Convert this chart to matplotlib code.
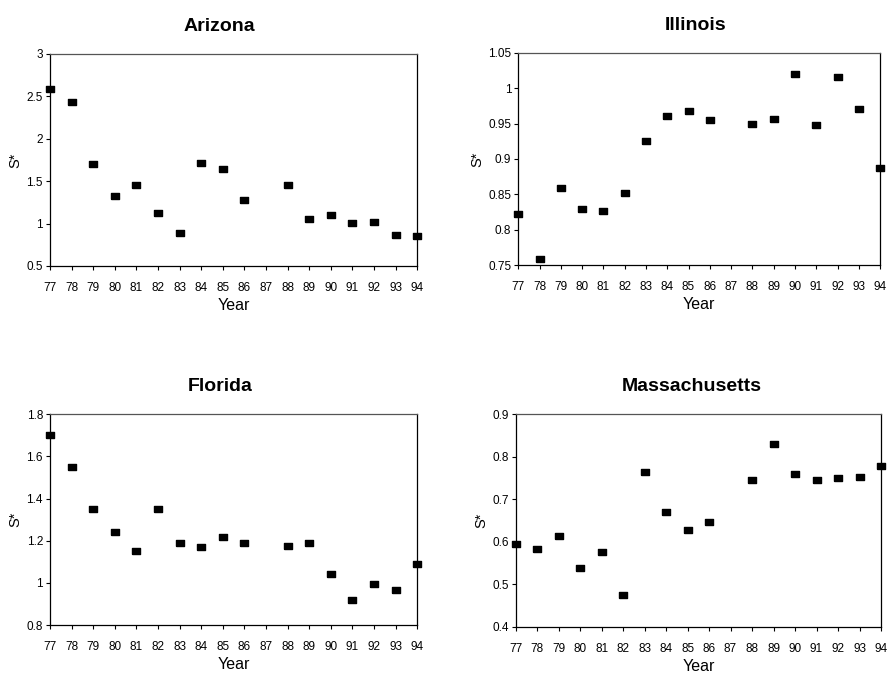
import matplotlib
matplotlib.use("Agg")
import matplotlib.pyplot as plt
import numpy as np

plt.rcParams['font.family'] = ['Liberation Sans', 'DejaVu Sans']

years = list(range(77, 95))
year_labels = [str(y) for y in years]

# None = no observation
arizona = [2.59, 2.43, 1.70, 1.33, 1.46, 1.12, 0.885, 1.71, 1.64, 1.28, None,
           1.45, 1.05, 1.10, 1.01, 1.02, 0.86, 0.85]
illinois = [0.822, 0.759, 0.859, 0.830, 0.826, 0.852, 0.926, 0.960, 0.967, 0.955, None,
            0.949, 0.957, 1.020, 0.948, 1.016, 0.971, 0.887]
florida = [1.70, 1.55, 1.35, 1.24, 1.15, 1.35, 1.19, 1.17, 1.22, 1.19, None,
           1.175, 1.19, 1.04, 0.92, 0.993, 0.966, 1.09]
massachusetts = [0.594, 0.584, 0.613, 0.538, 0.577, 0.475, 0.764, 0.670, 0.627, 0.647, None,
                 0.746, 0.830, 0.760, 0.746, 0.751, 0.752, 0.778]

az_ticks = [0.5, 1, 1.5, 2, 2.5, 3]
az_labels = ["0.5", "1", "1.5", "2", "2.5", "3"]
il_ticks = [0.75, 0.8, 0.85, 0.9, 0.95, 1.0, 1.05]
il_labels = ["0.75", "0.8", "0.85", "0.9", "0.95", "1", "1.05"]
fl_ticks = [0.8, 1.0, 1.2, 1.4, 1.6, 1.8]
fl_labels = ["0.8", "1", "1.2", "1.4", "1.6", "1.8"]
ma_ticks = [0.4, 0.5, 0.6, 0.7, 0.8, 0.9]
ma_labels = ["0.4", "0.5", "0.6", "0.7", "0.8", "0.9"]

panels = [
    ("Arizona", arizona, az_ticks, az_labels, [0.0562, 0.6048, 0.413, 0.315], 0.46),
    ("Illinois", illinois, il_ticks, il_labels, [0.583, 0.6058, 0.407, 0.316], 0.49),
    ("Florida", florida, fl_ticks, fl_labels, [0.0562, 0.0713, 0.413, 0.313], 0.463),
    ("Massachusetts", massachusetts, ma_ticks, ma_labels, [0.580, 0.0688, 0.411, 0.3156], 0.481),
]

rect = [(-1, -0.62), (1, -0.62), (1, 0.62), (-1, 0.62), (-1, -0.62)]

fig = plt.figure(figsize=(8.89, 6.73), dpi=100)
for title, vals, yt, yl, pos, tx in panels:
    ax = fig.add_axes(pos)
    xs = [y for y, v in zip(years, vals) if v is not None]
    vs = [v for v in vals if v is not None]
    ax.plot(xs, vs, linestyle='none', marker=rect, markersize=6.2,
            color='black', clip_on=False)
    ax.set_xlim(77, 94)
    ax.set_ylim(yt[0], yt[-1])
    ax.set_xticks(years)
    ax.set_xticklabels(year_labels)
    ax.set_yticks(yt)
    ax.set_yticklabels(yl)
    ax.tick_params(axis='both', direction='out', length=3, width=0.8,
                   labelsize=8.5, pad=2, colors='black')
    ax.tick_params(axis='x', pad=8.5)
    for s in ax.spines.values():
        s.set_linewidth(0.9)
        s.set_color('black')
    ax.spines['top'].set_color('#555555')
    ax.set_xlabel("Year", fontsize=11.5, labelpad=3)
    ax.set_ylabel("S*", fontsize=10.5, labelpad=3)
    ax.set_title(title, fontsize=14, fontweight='bold', pad=16.5, x=tx)

fig.savefig("out.png", dpi=100)
